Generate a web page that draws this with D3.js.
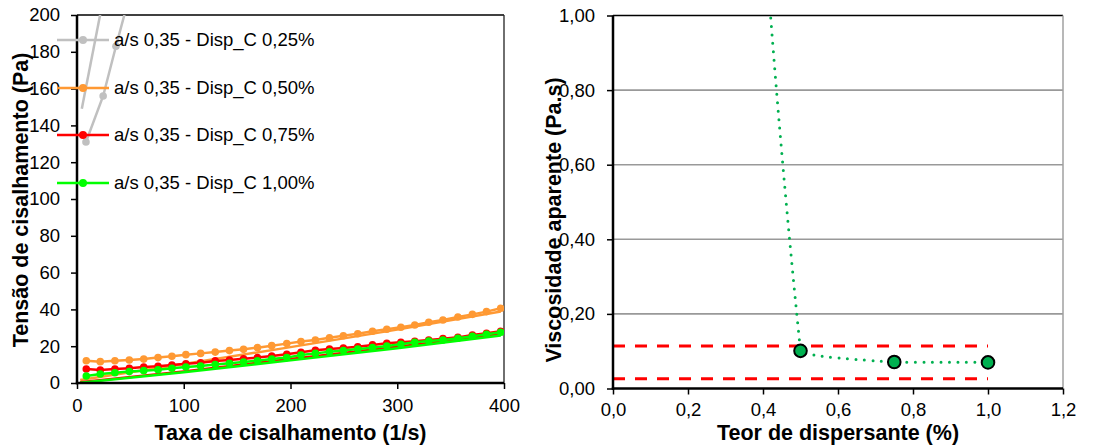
<!DOCTYPE html>
<html><head><meta charset="utf-8">
<script src="https://cdn.jsdelivr.net/npm/d3@7"></script>
<style>
html,body{margin:0;padding:0;background:#fff;}
svg{display:block;font-family:"Liberation Sans",Arial,sans-serif;}
</style></head><body>
<svg id="chart" width="1104" height="446"></svg>
<script>
// ---------- data: left chart (flow curves) ----------
const shearRate = [8.7, 21.8, 35.5, 49.0, 62.5, 75.9, 88.9, 102.0, 115.8, 129.5, 142.8, 156.0, 169.0, 182.4, 196.5,
                   209.8, 223.3, 236.5, 249.5, 263.0, 276.8, 290.2, 303.4, 316.4, 329.5, 342.8, 356.8, 370.4, 383.6, 396.9];
const shearRate025 = [8.4, 24.5, 36.5, 48.5];
const seriesNames = ["a/s 0,35 - Disp_C 0,25%", "a/s 0,35 - Disp_C 0,50%", "a/s 0,35 - Disp_C 0,75%", "a/s 0,35 - Disp_C 1,00%"];
const seriesColors = ["#C0C0C0", "#FF9933", "#FF0000", "#00FF00"];
const stress025 = [131, 156, 183, 209];
const stress050 = [12.1, 11.6, 12.1, 12.5, 13.0, 13.8, 14.5, 15.4, 16.1, 16.8, 17.6, 18.3, 19.2, 20.3, 21.4,
                   22.5, 23.4, 24.6, 25.7, 26.8, 28.1, 29.2, 30.3, 31.5, 33.0, 34.2, 35.9, 37.3, 38.8, 40.6];
const stress075 = [7.6, 7.1, 7.6, 8.0, 8.7, 9.1, 9.8, 10.5, 11.0, 12.0, 12.5, 13.2, 13.8, 14.7, 15.6,
                   16.7, 17.8, 18.5, 19.0, 19.7, 20.7, 21.6, 22.1, 22.7, 23.4, 24.1, 24.8, 26.1, 27.0, 28.1];
const stress100 = [3.8, 4.9, 5.6, 6.2, 6.7, 7.2, 8.0, 8.7, 9.2, 10.0, 10.7, 11.4, 12.1, 13.0, 13.8,
                   15.2, 16.1, 17.0, 17.6, 18.5, 19.2, 20.1, 21.0, 22.1, 22.8, 23.4, 24.3, 25.4, 26.5, 27.6];
// fitted model curves
const fit025X = [4.5, 25];
const fit025 = [149, 210];
const fitX = [3, 100, 200, 300, 397];
const fit050 = [1.6, 10.3, 19.5, 29.0, 38.9];
const fit075 = [0.4, 6.3, 13.0, 19.7, 26.5];
const fit100 = [0.1, 5.9, 12.3, 18.9, 25.8];
const stressTicks = [0, 20, 40, 60, 80, 100, 120, 140, 160, 180, 200];
const rateTicks = [0, 100, 200, 300, 400];

// ---------- data: right chart (apparent viscosity) ----------
const dispersant = [0.25, 0.50, 0.75, 1.00];
const viscosity = [5.0, 0.101, 0.071, 0.070];
const limitLines = [0.114, 0.026];
const limitExtent = [0, 1.0];
const viscTicks = [0, 0.2, 0.4, 0.6, 0.8, 1.0];
const dispTicks = [0, 0.2, 0.4, 0.6, 0.8, 1.0, 1.2];

// ---------- drawing ----------
const svg = d3.select("#chart");
const loc = d3.formatLocale({decimal: ",", thousands: ".", grouping: [3], currency: ["", ""]});
const FS = 18.5, TFS = 21.5;

const xL = d3.scaleLinear([0, 400], [77, 504]);
const yL = d3.scaleLinear([0, 200], [383, 15]);
const xR = d3.scaleLinear([0, 1.2], [613, 1063]);
const yR = d3.scaleLinear([0, 1], [388.5, 15.5]);

const defs = svg.append("defs");
defs.append("clipPath").attr("id", "clipL").append("rect")
  .attr("x", xL(0)).attr("y", yL(200)).attr("width", xL(400) - xL(0)).attr("height", yL(0) - yL(200));
defs.append("clipPath").attr("id", "clipR").append("rect")
  .attr("x", xR(0)).attr("y", yR(1)).attr("width", xR(1.2) - xR(0)).attr("height", yR(0) - yR(1));

function styleAxis(g) {
  g.select(".domain").remove();
  g.selectAll(".tick line").attr("stroke", "#000").attr("stroke-width", 1.5);
  g.selectAll(".tick text").attr("font-size", FS).attr("fill", "#000")
    .attr("font-family", '"Liberation Sans", Arial, sans-serif');
}

// ---- left frame ----
const gL = svg.append("g");
gL.append("line").attr("x1", xL(0)).attr("x2", xL(400)).attr("y1", yL(200)).attr("y2", yL(200))
  .attr("stroke", "#000").attr("stroke-width", 1.3);
gL.append("line").attr("x1", xL(400)).attr("x2", xL(400)).attr("y1", yL(200)).attr("y2", yL(0))
  .attr("stroke", "#222").attr("stroke-width", 1.3);

gL.append("g").attr("transform", `translate(0,${yL(0)})`)
  .call(d3.axisBottom(xL).tickValues(rateTicks).tickSize(6).tickSizeOuter(0).tickPadding(10).tickFormat(d3.format("d")))
  .call(styleAxis);
gL.append("g").attr("transform", `translate(${xL(0)},0)`)
  .call(d3.axisLeft(yL).tickValues(stressTicks).tickSize(6).tickSizeOuter(0).tickPadding(11).tickFormat(d3.format("d")))
  .call(styleAxis);

const pL = gL.append("g").attr("clip-path", "url(#clipL)");
const lineL = d3.line().x(d => xL(d[0])).y(d => yL(d[1]));
const fits = [
  {x: fit025X, y: fit025},
  {x: fitX, y: fit050},
  {x: fitX, y: fit075},
  {x: fitX, y: fit100}
];
fits.forEach((f, i) => {
  pL.append("path").datum(f.y.map((v, j) => [f.x[j], v]))
    .attr("d", lineL).attr("fill", "none").attr("stroke", seriesColors[i]).attr("stroke-width", 2.5);
});
const seriesData = [
  {x: shearRate025, y: stress025},
  {x: shearRate, y: stress050},
  {x: shearRate, y: stress075},
  {x: shearRate, y: stress100}
];
seriesData.forEach((s, i) => {
  const pts = s.y.map((v, j) => [s.x[j], v]);
  pL.append("path").datum(pts).attr("d", lineL).attr("fill", "none")
    .attr("stroke", seriesColors[i]).attr("stroke-width", 2.5);
  pL.selectAll(null).data(pts).enter().append("circle")
    .attr("cx", d => xL(d[0])).attr("cy", d => yL(d[1])).attr("r", 3.8)
    .attr("fill", seriesColors[i]);
});

gL.append("line").attr("x1", xL(0)).attr("x2", xL(0)).attr("y1", yL(200)).attr("y2", yL(0) + 1.2)
  .attr("stroke", "#000").attr("stroke-width", 2.5);
gL.append("line").attr("x1", xL(0) - 1.2).attr("x2", xL(400)).attr("y1", yL(0)).attr("y2", yL(0))
  .attr("stroke", "#000").attr("stroke-width", 2.5);

// legend
const legY = [40, 88, 135, 183];
seriesNames.forEach((name, i) => {
  const g = gL.append("g").attr("transform", `translate(0,${legY[i]})`);
  g.append("line").attr("x1", 57).attr("x2", 109).attr("y1", 0).attr("y2", 0)
    .attr("stroke", seriesColors[i]).attr("stroke-width", 2.5);
  g.append("circle").attr("cx", 83).attr("cy", 0).attr("r", 4).attr("fill", seriesColors[i]);
  g.append("text").attr("x", 114).attr("y", 0).attr("dy", "0.35em").attr("font-size", FS)
    .attr("fill", "#000").text(name);
});

gL.append("text").attr("x", xL(200)).attr("y", 440).attr("text-anchor", "middle")
  .attr("font-size", TFS).attr("font-weight", "bold").text("Taxa de cisalhamento (1/s)");
gL.append("text").attr("transform", "translate(20,200) rotate(-90)").attr("text-anchor", "middle")
  .attr("dy", "0.36em").attr("font-size", TFS).attr("font-weight", "bold").text("Tensão de cisalhamento (Pa)");

// ---- right chart ----
const gR = svg.append("g");
gR.selectAll(null).data(viscTicks.filter(v => v > 0 && v < 1)).enter().append("line")
  .attr("x1", xR(0)).attr("x2", xR(1.2)).attr("y1", d => yR(d)).attr("y2", d => yR(d))
  .attr("stroke", "#999").attr("stroke-width", 1.6);
gR.append("line").attr("x1", xR(0)).attr("x2", xR(1.2)).attr("y1", yR(1)).attr("y2", yR(1))
  .attr("stroke", "#000").attr("stroke-width", 1.3);
gR.append("line").attr("x1", xR(1.2)).attr("x2", xR(1.2)).attr("y1", yR(1)).attr("y2", yR(0))
  .attr("stroke", "#A0A0A0").attr("stroke-width", 1.5);

gR.append("g").attr("transform", `translate(0,${yR(0)})`)
  .call(d3.axisBottom(xR).tickValues(dispTicks).tickSize(6).tickSizeOuter(0).tickPadding(8).tickFormat(loc.format(".1f")))
  .call(styleAxis);
gR.append("g").attr("transform", `translate(${xR(0)},0)`)
  .call(d3.axisLeft(yR).tickValues(viscTicks).tickSize(6).tickSizeOuter(0).tickPadding(12).tickFormat(loc.format(".2f")))
  .call(styleAxis);

const pR = gR.append("g").attr("clip-path", "url(#clipR)");
limitLines.forEach(v => {
  pR.append("path").datum(limitExtent.map(x => [x, v]))
    .attr("d", d3.line().x(d => xR(d[0])).y(d => yR(d[1])))
    .attr("fill", "none").attr("stroke", "#FF0000").attr("stroke-width", 3)
    .attr("stroke-dasharray", "12,10");
});
const viscPts = dispersant.map((d, i) => [d, viscosity[i]]);
pR.append("path").datum(viscPts)
  .attr("d", d3.line().x(d => xR(d[0])).y(d => yR(d[1])).curve(d3.curveMonotoneY))
  .attr("fill", "none").attr("stroke", "#00B050").attr("stroke-width", 3)
  .attr("stroke-linecap", "round").attr("stroke-dasharray", "0,8.5");
pR.selectAll(null).data(viscPts).enter().append("circle")
  .attr("cx", d => xR(d[0])).attr("cy", d => yR(d[1])).attr("r", 6.3)
  .attr("fill", "#00B050").attr("stroke", "#000").attr("stroke-width", 2);

gR.append("line").attr("x1", xR(0)).attr("x2", xR(0)).attr("y1", yR(1)).attr("y2", yR(0) + 1.2)
  .attr("stroke", "#000").attr("stroke-width", 2.5);
gR.append("line").attr("x1", xR(0) - 1.2).attr("x2", xR(1.2)).attr("y1", yR(0)).attr("y2", yR(0))
  .attr("stroke", "#000").attr("stroke-width", 2.5);

gR.append("text").attr("x", xR(0.6)).attr("y", 440).attr("text-anchor", "middle")
  .attr("font-size", TFS).attr("font-weight", "bold").text("Teor de dispersante (%)");
gR.append("text").attr("transform", "translate(553,220) rotate(-90)").attr("text-anchor", "middle")
  .attr("dy", "0.36em").attr("font-size", TFS).attr("font-weight", "bold").text("Viscosidade aparente (Pa.s)");
</script>
</body></html>
